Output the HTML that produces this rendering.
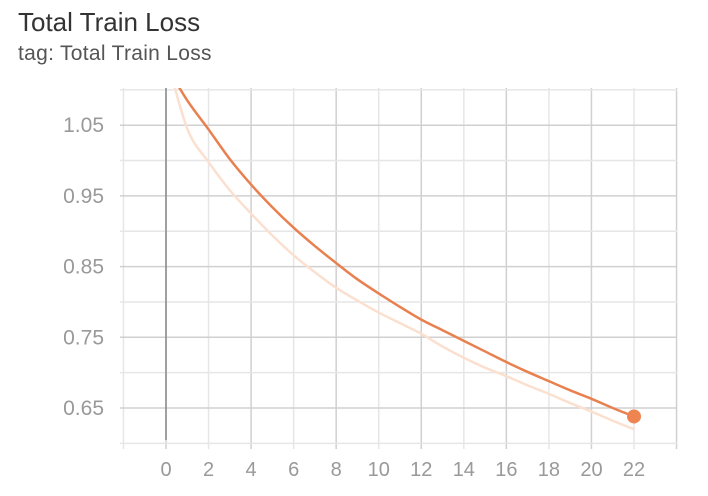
<!DOCTYPE html>
<html><head><meta charset="utf-8"><style>
body{margin:0;background:#fff;width:708px;height:496px;overflow:hidden;font-family:"Liberation Sans",sans-serif}
.t{position:absolute;left:18px;top:7px;font-size:26px;color:#333}
.s{position:absolute;left:18px;top:42px;font-size:21px;color:#555;letter-spacing:0.3px}
</style></head><body>
<div class="t">Total Train Loss</div>
<div class="s">tag: Total Train Loss</div>
<svg id="c" width="708" height="496" style="position:absolute;left:0;top:0"></svg>
<script>
const steps=[0,1,2,3,4,5,6,7,8,9,10,11,12,13,14,15,16,17,18,19,20,21,22];
const smoothed=[1.135,1.085,1.044,1.002,0.966,0.934,0.905,0.879,0.855,0.832,0.812,0.793,0.775,0.76,0.745,0.73,0.715,0.701,0.688,0.675,0.663,0.65,0.638];
const raw=[1.15,1.045,0.998,0.958,0.925,0.894,0.866,0.842,0.82,0.802,0.785,0.77,0.755,0.737,0.721,0.707,0.695,0.682,0.67,0.657,0.645,0.632,0.62];
const xTicks=[0,2,4,6,8,10,12,14,16,18,20,22];
const yTicks=[0.65,0.75,0.85,0.95,1.05];
const NS="http://www.w3.org/2000/svg",svg=document.getElementById('c');
const X=v=>166+(v)*(634-166)/22, Y=v=>408-(v-0.65)*707;
const L=120,R=677,T=88,B=443;
function el(t,a){const e=document.createElementNS(NS,t);for(const k in a)e.setAttribute(k,a[k]);svg.appendChild(e);return e;}
const defs=el('defs',{});const cp=document.createElementNS(NS,'clipPath');cp.setAttribute('id','cp');defs.appendChild(cp);
const r=document.createElementNS(NS,'rect');r.setAttribute('x',L);r.setAttribute('y',T);r.setAttribute('width',R-L);r.setAttribute('height',B-T);cp.appendChild(r);
for(let v=-2;v<=24;v+=2){const g=el('line',{x1:X(v),x2:X(v),y1:T,y2:B+6,stroke:v%4==0?'#d0d0d0':'#e6e6e6','stroke-width':1.5});
}
for(let k=0;k<11;k++){const v=0.6+k*0.05;const y=Y(v);if(y<T-2)continue;const g=el('line',{x1:L,x2:R,y1:y,y2:y,stroke:(k%2)?'#d0d0d0':'#e6e6e6','stroke-width':1.5});
}
const z=el('line',{x1:X(0),x2:X(0),y1:T,y2:440,stroke:'#888','stroke-width':1.5});

xTicks.forEach(v=>{const t=el('text',{x:X(v),y:476,'text-anchor':'middle','font-size':20,fill:'#999'});t.textContent=v;
});
yTicks.forEach(v=>{const t=el('text',{x:104,y:Y(v)+7,'text-anchor':'end','font-size':21,fill:'#999'});t.textContent=v.toFixed(2);
});
function pts(d){return d.map((v,i)=>[X(steps[i]),Y(v)]);}
function smoothPath(p){let s='M'+p[0][0]+','+p[0][1];for(let i=0;i<p.length-1;i++){const p0=p[i-1]||p[i],p1=p[i],p2=p[i+1],p3=p[i+2]||p2;
s+='C'+(p1[0]+(p2[0]-p0[0])/6)+','+(p1[1]+(p2[1]-p0[1])/6)+' '+(p2[0]-(p3[0]-p1[0])/6)+','+(p2[1]-(p3[1]-p1[1])/6)+' '+p2[0]+','+p2[1];}return s;}
function line(d,c,w,n){const p=el('path',{d:smoothPath(pts(d)),fill:'none',stroke:c,'stroke-width':w,'clip-path':'url(#cp)','stroke-linejoin':'round'});
}
line(raw,'#fbe0d0',2.5,'raw-loss-line');
line(smoothed,'#e8804f',2.5,'smoothed-loss-line');
const d=el('circle',{cx:X(22),cy:Y(smoothed[22]),r:7,fill:'#ee8450'});

</script></body></html>
